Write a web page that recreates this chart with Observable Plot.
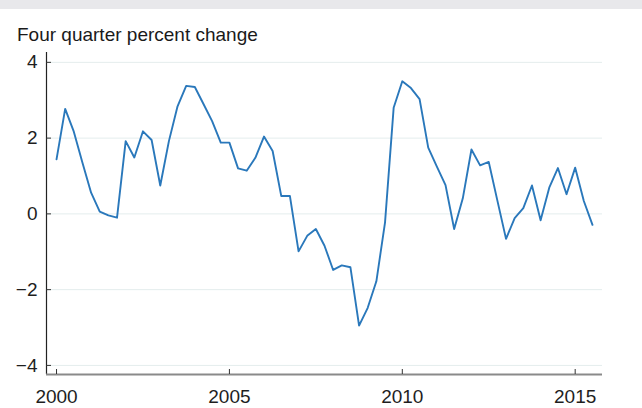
<!DOCTYPE html>
<html>
<head>
<meta charset="utf-8">
<script src="https://cdn.jsdelivr.net/npm/d3@7"></script>
<script src="https://cdn.jsdelivr.net/npm/@observablehq/plot@0.6"></script>
<style>
  html, body { margin: 0; padding: 0; background: #fff; }
  #wrap { position: relative; width: 642px; height: 408px; overflow: hidden; font-family: "Liberation Sans", Arial, sans-serif; }
  #band { position: absolute; left: 0; top: 0; width: 642px; height: 9px; background: #e8e8eb; }
  #title { position: absolute; left: 17px; top: 25px; font-size: 19px; line-height: 19px; color: #1a1a1a; white-space: nowrap; }
  #chart { position: absolute; left: 0; top: 45px; }
</style>
</head>
<body>
<div id="wrap">
  <div id="band"></div>
  <div id="title">Four quarter percent change</div>
  <div id="chart"></div>
</div>
<script>
const titleText = "Four quarter percent change";
const startYear = 2000;
const values = [1.44, 2.77, 2.17, 1.35, 0.56, 0.06, -0.04, -0.10, 1.92, 1.49, 2.18, 1.95, 0.75, 1.92, 2.84, 3.38, 3.35, 2.90, 2.45, 1.88, 1.88, 1.20, 1.14, 1.48, 2.04, 1.66, 0.47, 0.47, -0.99, -0.58, -0.40, -0.84, -1.48, -1.36, -1.41, -2.95, -2.48, -1.78, -0.23, 2.80, 3.50, 3.32, 3.03, 1.75, 1.25, 0.76, -0.40, 0.41, 1.70, 1.28, 1.37, 0.35, -0.66, -0.11, 0.15, 0.75, -0.17, 0.69, 1.21, 0.52, 1.22, 0.34, -0.29];
const xTicks = [2000, 2005, 2010, 2015];
const yTicks = [-4, -2, 0, 2, 4];
const xDomain = [1999.71, 2015.79];
const yDomain = [-4.24, 4.26];

const data = values.map((v, i) => ({date: startYear + i / 4, value: v}));
const fmtY = d => d < 0 ? "\u2212" + Math.abs(d) : String(d);

const chart = Plot.plot({
  width: 642,
  height: 363,
  marginTop: 7,
  marginBottom: 34,
  marginLeft: 46,
  marginRight: 40,
  style: {fontFamily: "'Liberation Sans', Arial, sans-serif", fontSize: "19px", color: "#1e1e1e", background: "transparent", overflow: "visible"},
  x: {domain: xDomain},
  y: {domain: yDomain},
  marks: [
    Plot.gridY(yTicks, {stroke: "#e4eded", strokeOpacity: 1, strokeWidth: 1}),
    Plot.ruleX([xDomain[0]], {stroke: "#222", strokeWidth: 1.2}),
    Plot.ruleY([yDomain[0]], {stroke: "#8a8a8a", strokeWidth: 2}),
    Plot.line(data, {x: "date", y: "value", stroke: "#2a78bb", strokeWidth: 1.9, curve: "linear"}),
    Plot.axisY(yTicks, {tickSize: 5, dx: 5, tickPadding: 9, tickFormat: fmtY, fontSize: 19, label: null, stroke: "#333"}),
    Plot.axisX(xTicks, {tickSize: 5, dy: -5, tickPadding: 15, tickFormat: d => String(d), fontSize: 19, label: null, stroke: "#333"})
  ]
});
document.getElementById("chart").appendChild(chart);
</script>
</body>
</html>
